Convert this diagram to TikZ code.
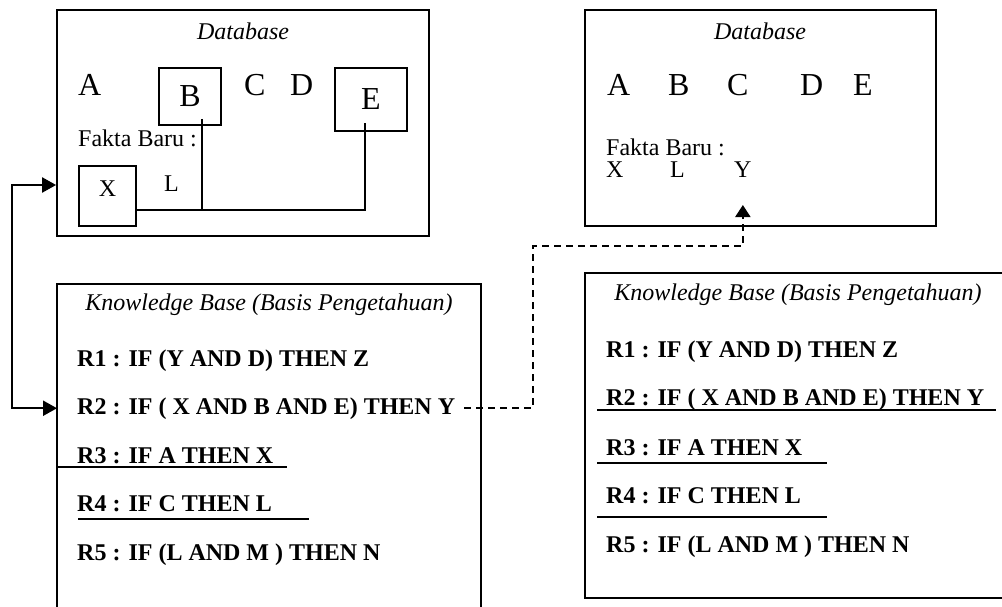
\documentclass[tikz,border=0pt]{standalone}
\usepackage{fontspec}
\setmainfont{Liberation Serif}
\usetikzlibrary{arrows.meta}

\begin{document}
\begin{tikzpicture}[x=1pt,y=-1pt,
  frame/.style={line width=1.8pt},
  box/.style={draw,frame,inner sep=0pt},
  txt/.style={anchor=base west,inner sep=0pt,font=\fontsize{24}{28}\selectfont},
  fact/.style={txt,text height=16pt,text depth=0pt},
  big/.style={anchor=base west,inner sep=0pt,font=\fontsize{32}{36}\selectfont},
  rule/.style={txt,font=\fontsize{24}{28}\selectfont\bfseries},
  title/.style={anchor=base,inner sep=0pt,font=\fontsize{24}{28}\selectfont\itshape},
  link/.style={line width=1.6pt},
  uline/.style={line width=1.6pt},
  feed/.style={line width=2.2pt,{Triangle[length=14pt,width=15pt]}-{Triangle[length=14pt,width=15pt]}},
  flow/.style={line width=2pt,dash pattern=on 7pt off 5pt,-{Triangle[length=12pt,width=15pt]}}]
\useasboundingbox (0,0) rectangle (1002,607);

% database before the rules fire
\node[box,minimum width=372,minimum height=226] (db1) at (243,123) {};
\node[title] (db1t) at (243,40) {Database};
\node[big] (a1) at (78,96) {A};
\node[box,minimum width=62,minimum height=57,font=\fontsize{32}{36}\selectfont] (b1) at (190,96.5) {B};
\node[big] (c1) at (244,96) {C};
\node[big] (d1) at (290,96) {D};
\node[box,minimum width=72,minimum height=63,font=\fontsize{32}{36}\selectfont] (e1) at (371,99.5) {E};
\node[fact] (fb1) at (78,147) {Fakta Baru :};
\node[box,minimum width=57,minimum height=60,text depth=14pt,font=\fontsize{24}{28}\selectfont] (x1) at (107.5,196) {X};
\node[fact] (l1) at (164,192) {L};
\coordinate (bus) at (365,210);
\coordinate (btap) at (202,119);
\coordinate (etap) at (365,123);
\draw[link] (x1.east |- bus) -- (bus) -- (etap);
\draw[link] (btap) -- (btap |- bus);

% database after the rules fire
\node[box,minimum width=351,minimum height=216] (db2) at (760.5,118) {};
\node[title] (db2t) at (760,40) {Database};
\node[big] (a2) at (607,96) {A};
\node[big] (b2) at (668,96) {B};
\node[big] (c2) at (727,96) {C};
\node[big] (d2) at (800,96) {D};
\node[big] (e2) at (853,96) {E};
\node[fact] (fb2) at (606,156) {Fakta Baru :};
\node[fact] (x2) at (606,178) {X};
\node[fact] (l2) at (670,178) {L};
\node[fact] (y2) at (734,178) {Y};

% knowledge base, left
\draw[frame] (57,607) -- (57,284) -- (481,284) -- (481,607);
\node[title] (kb1t) at (269,310) {Knowledge Base (Basis Pengetahuan)};
\node[rule] (r1l) at (77,366) {R1 : IF (Y AND D) THEN Z};
\node[rule] (r2l) at (77,414) {R2 : IF ( X AND B AND E) THEN Y};
\node[rule] (r3l) at (77,463) {R3 : IF A THEN X};
\node[rule] (r4l) at (77,511) {R4 : IF C THEN L};
\node[rule] (r5l) at (77,560) {R5 : IF (L AND M ) THEN N};
\draw[uline] (57,467) -- (287,467);
\draw[uline] (78,519) -- (309,519);

% knowledge base, right
\draw[frame] (1002,273) -- (585,273) -- (585,598) -- (1002,598);
\node[title] (kb2t) at (798,300) {Knowledge Base (Basis Pengetahuan)};
\node[rule] (r1r) at (606,357) {R1 : IF (Y AND D) THEN Z};
\node[rule] (r2r) at (606,405) {R2 : IF ( X AND B AND E) THEN Y};
\node[rule] (r3r) at (606,455) {R3 : IF A THEN X};
\node[rule] (r4r) at (606,503) {R4 : IF C THEN L};
\node[rule] (r5r) at (606,552) {R5 : IF (L AND M ) THEN N};
\draw[uline] (597,410) -- (996,410);
\draw[uline] (597,463) -- (827,463);
\draw[uline] (597,517) -- (827,517);

% matching and firing
\coordinate (turn) at (12,185);
\draw[feed] (db1.west |- turn) -- (turn) -- (turn |- r2l) -- ([xshift=-20pt]r2l.west);
\coordinate (jog) at (533,246);
\coordinate (ytip) at ([yshift=-27pt]y2.base);
\draw[flow] ([xshift=9pt]r2l.east) -| (jog) -| (ytip);
\end{tikzpicture}
\end{document}
